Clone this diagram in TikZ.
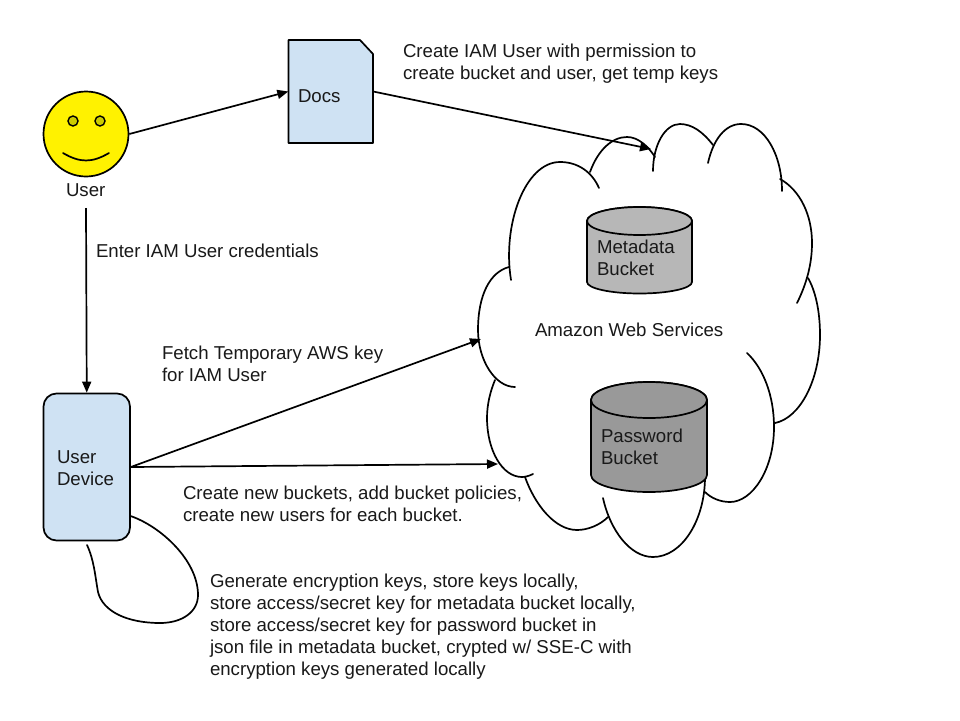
\documentclass[tikz,border=0pt]{standalone}
\usepackage{fontspec}
\setmainfont{Liberation Sans}
\usetikzlibrary{arrows.meta}
\definecolor{boxblue}{HTML}{CFE2F3}
\definecolor{metagray}{HTML}{B7B7B7}
\definecolor{passgray}{HTML}{999999}
\definecolor{eyecol}{HTML}{CCCC00}
\tikzset{
  lbl/.style={anchor=north west,inner sep=0pt,outer sep=0pt,align=left,yshift=14pt,
    font=\fontsize{18.65}{22}\selectfont,text=black!90,execute at begin node={\rule{0pt}{14pt}}},
  ln/.style={draw=black,line width=1.7pt},
  conn/.style={ln,-{Triangle[length=11pt,width=9pt]},shorten >=0pt},
  lobe/.style={ln,line cap=round},
  tube/.style={ln,line join=round}
}
\begin{document}
\begin{tikzpicture}[x=1pt,y=-1pt]
\useasboundingbox (0,0) rectangle (960,720);
\fill[white] (0,0) rectangle (960,720);

% cloud
\draw[lobe] (511,280) .. controls (502,225) and (525,162) .. (560,162) .. controls (578,162) and (592,172) .. (599,188);
\draw[lobe] (590,172) .. controls (598,150) and (612,137) .. (627,137) .. controls (638,137) and (648,146) .. (655,157);
\draw[lobe] (653,171) .. controls (653,145) and (665,124) .. (680,124) .. controls (692,124) and (703,132) .. (713,145);
\draw[lobe] (708,163) .. controls (713,140) and (725,124) .. (741,124) .. controls (765,124) and (782,155) .. (782,191);
\draw[lobe] (780,179) .. controls (800,190) and (812,215) .. (812,243) .. controls (812,265) and (806,285) .. (797,303);
\draw[lobe] (808,278) .. controls (815,290) and (820,310) .. (820,335) .. controls (820,380) and (800,418) .. (775,423);
\draw[lobe] (747,353) .. controls (763,368) and (774,395) .. (774,427) .. controls (774,470) and (752,502) .. (730,502) .. controls (720,502) and (711,498) .. (705,492);
\draw[lobe] (603,498) .. controls (610,530) and (630,557) .. (653,557) .. controls (682,557) and (705,520) .. (705,477);
\draw[lobe] (525,477) .. controls (535,505) and (555,530) .. (577,530) .. controls (588,530) and (600,525) .. (608,517);
\draw[lobe] (533,474) .. controls (529,476) and (525,477) .. (522,477) .. controls (502,477) and (487,450) .. (487,418) .. controls (487,405) and (490,392) .. (495,380);
\draw[lobe] (509,267) .. controls (490,272) and (478,295) .. (478,330) .. controls (478,360) and (495,387) .. (515,387);
\node[lbl] (aws) at (535,336) {Amazon Web Services};

% metadata bucket
\path[tube,fill=metagray] (587,221) arc[x radius=52.5,y radius=14,start angle=180,end angle=360]
  -- (692,282) arc[x radius=52.5,y radius=11.5,start angle=0,end angle=180] -- cycle;
\path[tube,fill=metagray] (639.5,221) ellipse[x radius=52.5,y radius=14];
\node[lbl] (meta) at (597,254) {Metadata\\Bucket};

% password bucket
\path[tube,fill=passgray] (591,400) arc[x radius=58,y radius=18,start angle=180,end angle=360]
  -- (707,475) arc[x radius=58,y radius=17,start angle=0,end angle=180] -- cycle;
\path[tube,fill=passgray] (649,400) ellipse[x radius=58,y radius=18];
\node[lbl] (pass) at (601,443) {Password\\Bucket};

% user
\node[circle,ln,fill=yellow,minimum size=85pt,inner sep=0pt] (face) at (86,134) {};
\node[circle,draw=black,line width=1.4pt,fill=eyecol,minimum size=10pt,inner sep=0pt] (eyel) at (73,121) {};
\node[circle,draw=black,line width=1.4pt,fill=eyecol,minimum size=10pt,inner sep=0pt] (eyer) at (100,121) {};
\draw[ln,line cap=round] (63,153) .. controls (80,163) and (92,163) .. (109,153);
\node[lbl] (userlbl) at (66,196) {User};

% docs
\node[minimum width=84.5pt,minimum height=103pt,inner sep=0pt] (docs) at (330.75,91.5) {};
\path[tube,fill=boxblue] (288.5,40) -- (360,40) -- (373,54) -- (373,143) -- (288.5,143) -- cycle;
\node[lbl] (docslbl) at (298,102) {Docs};

% device
\node[rectangle,rounded corners=13pt,ln,fill=boxblue,minimum width=86.5pt,minimum height=147pt,inner sep=0pt] (device) at (86.75,467) {};
\node[lbl] (devlbl) at (57,465) {User\\Device};

% free ends
\coordinate (cloudtop) at (651,149);
\coordinate (cloudleft) at (481,339);
\coordinate (cloudmid) at (498,464);
\coordinate (userbelow) at (86,208);
\coordinate (loopend) at (87,545);
\coordinate (loopstart) at (130.5,516);

% connectors
\draw[conn] (face.east) -- (docs.west);
\draw[conn] (docs.east) -- (cloudtop);
\draw[conn] (userbelow) -- (device.north);
\draw[conn] (device.east) -- (cloudleft);
\draw[conn] (device.east) -- (cloudmid);
\draw[ln,line cap=round] (loopstart) .. controls (160,526) and (198,560) .. (198,595)
  .. controls (198,612) and (182,623) .. (160,623)
  .. controls (128,623) and (103,612) .. (98,592)
  .. controls (95,575) and (94,560) .. (loopend);

% labels
\node[lbl] (l1) at (403,58) {Create IAM User with permission to\\create bucket and user, get temp keys};
\node[lbl] (l2) at (96,257) {Enter IAM User credentials};
\node[lbl] (l3) at (162,360) {Fetch Temporary AWS key\\for IAM User};
\node[lbl] (l4) at (183,500) {Create new buckets, add bucket policies,\\create new users for each bucket.};
\node[lbl] (l5) at (210,588) {Generate encryption keys, store keys locally,\\store access/secret key for metadata bucket locally,\\store access/secret key for password bucket in\\json file in metadata bucket, crypted w/ SSE-C with\\encryption keys generated locally};
\end{tikzpicture}
\end{document}
